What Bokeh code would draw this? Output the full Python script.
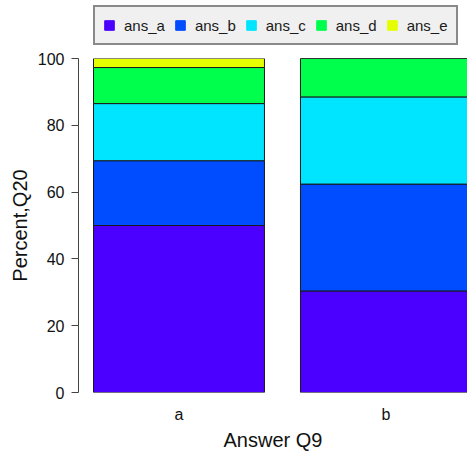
from bokeh.plotting import figure
from bokeh.layouts import column
from bokeh.models import Legend, LegendItem, ColumnDataSource, Range1d, FixedTicker
from bokeh.embed import file_html
from bokeh.resources import INLINE

groups = ["a", "b"]
answers = ["ans_a", "ans_b", "ans_c", "ans_d", "ans_e"]
ans_a = [50.0, 30.4]
ans_b = [19.4, 32.0]
ans_c = [17.1, 26.1]
ans_d = [10.8, 11.5]
ans_e = [2.7, 0.0]
colors = ["#4B00FF", "#004CFF", "#00E5FF", "#00FF4D", "#E6FF00"]
y_ticks = [0, 20, 40, 60, 80, 100]

x = [i + 0.5 for i in range(len(groups))]
source = ColumnDataSource(dict(x=x, ans_a=ans_a, ans_b=ans_b, ans_c=ans_c,
                               ans_d=ans_d, ans_e=ans_e))

FONT = "Liberation Sans"

# ---- legend strip (its own small figure on top) ----
lf = figure(width=467, height=48, output_backend="svg", toolbar_location=None,
            x_range=Range1d(0, 1), y_range=Range1d(0, 1),
            x_axis_location=None, y_axis_location=None,
            min_border_left=0, min_border_right=0, min_border_top=0,
            min_border_bottom=0)
lf.outline_line_color = None
lf.xgrid.visible = False
lf.ygrid.visible = False

items = []
for name, c in zip(answers, colors):
    # tiny swatch-only renderers, hidden underneath the opaque legend box
    r = lf.vbar(x=[0.5], bottom=[0.45], top=[0.55], width=0.005,
                fill_color=c, line_color=c)
    items.append(LegendItem(label=name, renderers=[r]))

legend = Legend(items=items, orientation="horizontal", location=(15, 3),
                margin=0, padding=8, spacing=9, label_standoff=9,
                glyph_width=12, glyph_height=12, label_height=20,
                label_text_font=FONT, label_text_font_size="15px",
                label_text_color="#1a1a1a",
                border_line_color="#222222", border_line_width=2,
                background_fill_color="#f0f0f0", background_fill_alpha=1)
lf.add_layout(legend, "center")

# ---- main chart ----
p = figure(width=467, height=406, output_backend="svg", toolbar_location=None,
           x_range=Range1d(0.0145, 1.894), y_range=Range1d(0, 100),
           min_border_left=78, min_border_right=0, min_border_top=10,
           min_border_bottom=62)
p.outline_line_color = None
p.xgrid.visible = False
p.ygrid.visible = False

p.vbar_stack(answers, x="x", width=0.826, fill_color=colors,
             line_color="#1a1a1a", line_width=1, source=source)

ya = p.yaxis[0]
ya.ticker = FixedTicker(ticks=y_ticks)
ya.minor_tick_line_color = None
ya.major_tick_in = 0
ya.major_tick_out = 7
ya.axis_line_color = "#444444"
ya.major_tick_line_color = "#444444"
ya.major_label_text_font = FONT
ya.major_label_text_font_size = "16px"
ya.major_label_text_color = "#111111"
ya.major_label_standoff = 7
ya.axis_label = "Percent,Q20"
ya.axis_label_text_font = FONT
ya.axis_label_text_font_size = "20px"
ya.axis_label_text_font_style = "normal"
ya.axis_label_text_color = "#111111"
ya.axis_label_standoff = 4

xa = p.xaxis[0]
xa.ticker = FixedTicker(ticks=x)
xa.major_label_overrides = {xv: g for xv, g in zip(x, groups)}
xa.axis_line_color = None
xa.major_tick_line_color = None
xa.minor_tick_line_color = None
xa.major_tick_out = 0
xa.major_tick_in = 0
xa.major_label_standoff = 13
xa.major_label_text_font = FONT
xa.major_label_text_font_size = "16px"
xa.major_label_text_color = "#111111"
xa.axis_label = "Answer Q9"
xa.axis_label_text_font = FONT
xa.axis_label_text_font_size = "20px"
xa.axis_label_text_font_style = "normal"
xa.axis_label_text_color = "#111111"
xa.axis_label_standoff = 3

layout = column(lf, p, spacing=0)
open("out.html", "w").write(file_html(layout, INLINE))
